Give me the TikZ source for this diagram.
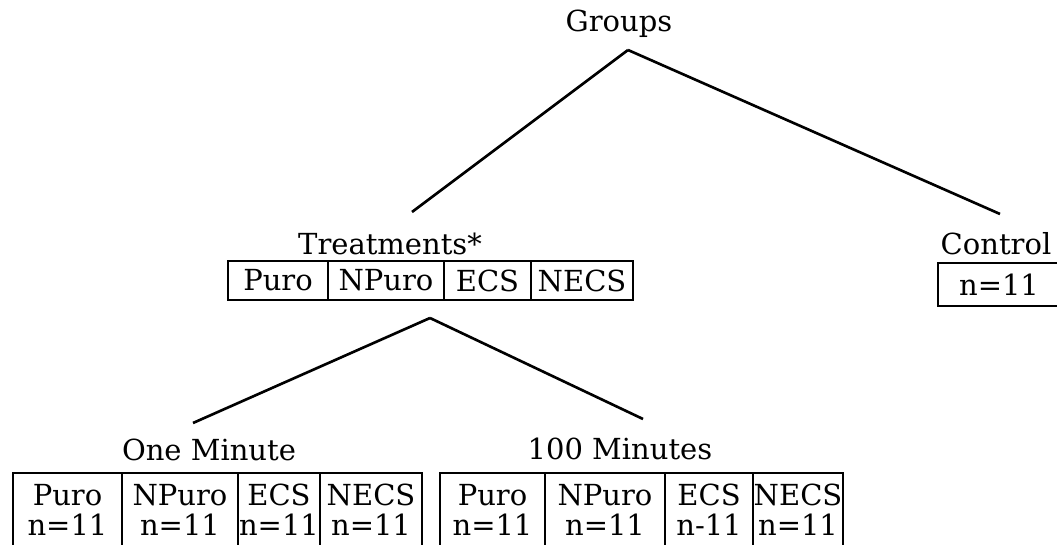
\documentclass[tikz,border=0pt]{standalone}
\usepackage{fontspec}
\setmainfont{DejaVu Serif}

\begin{document}
\begin{tikzpicture}[x=0.02cm,y=-0.02cm]
\tikzstyle{every node}=[inner sep=0pt, font=\fontsize{16.5}{17}\selectfont]
\tikzstyle{cell}=[draw, rectangle, line width=1.1pt, align=center]
\tikzstyle{link}=[line width=1.5pt]
\useasboundingbox (0,0) rectangle (1057,544);
% labels
\draw (619,24) node (groups) {Groups};
\draw (390,244) node (treat) {Treatments*};
\draw (996,244) node (control) {Control};
\draw (209,450) node (onemin) {One Minute};
\draw (620,449) node (hundred) {100 Minutes};
% treatment row
\draw (278,280.5) node (t1) [cell, minimum width=2.00cm, minimum height=0.78cm] {Puro};
\draw (386,280.5) node (t2) [cell, minimum width=2.32cm, minimum height=0.78cm] {NPuro};
\draw (487.5,280.5) node (t3) [cell, minimum width=1.74cm, minimum height=0.78cm] {ECS};
\draw (582,280.5) node (t4) [cell, minimum width=2.04cm, minimum height=0.78cm] {NECS};
% control
\draw (999,284.5) node (c1) [cell, minimum width=2.44cm, minimum height=0.86cm] {n=11};
% one minute row
\draw (67.5,509.5) node (a1) [cell, minimum width=2.18cm, minimum height=1.46cm] {Puro\\n=11};
\draw (180,509.5) node (a2) [cell, minimum width=2.32cm, minimum height=1.46cm] {NPuro\\n=11};
\draw (279,509.5) node (a3) [cell, minimum width=1.64cm, minimum height=1.46cm] {ECS\\n=11};
\draw (371,509.5) node (a4) [cell, minimum width=2.04cm, minimum height=1.46cm] {NECS\\n=11};
% hundred minutes row
\draw (492.5,509.5) node (b1) [cell, minimum width=2.10cm, minimum height=1.46cm] {Puro\\n=11};
\draw (605,509.5) node (b2) [cell, minimum width=2.40cm, minimum height=1.46cm] {NPuro\\n=11};
\draw (709,509.5) node (b3) [cell, minimum width=1.76cm, minimum height=1.46cm] {ECS\\n-11};
\draw (798,509.5) node (b4) [cell, minimum width=1.80cm, minimum height=1.46cm] {NECS\\n=11};
% branch points
\coordinate (gtop) at (628,50);
\coordinate (gleft) at (412,212);
\coordinate (gright) at (1000,214);
\coordinate (ttop) at (430,318);
\coordinate (tleft) at (193,423);
\coordinate (tright) at (643,419);
\draw[link] (gtop) -- (gleft);
\draw[link] (gtop) -- (gright);
\draw[link] (ttop) -- (tleft);
\draw[link] (ttop) -- (tright);
\end{tikzpicture}
\end{document}
